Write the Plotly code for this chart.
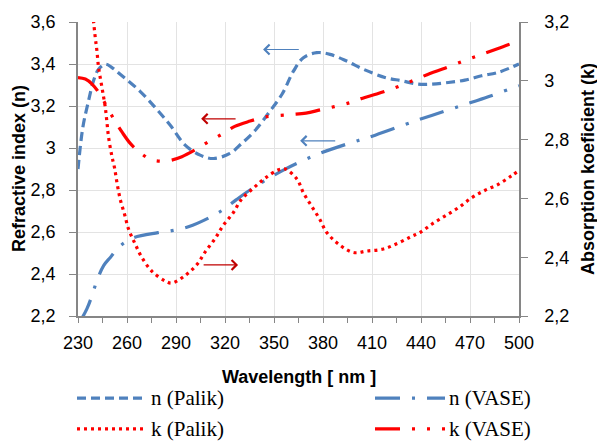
import plotly.graph_objects as go

# ---------------- data ----------------
n_palik_wl = [230, 233, 236.5, 239.5, 242.6, 246.7, 250.8, 256, 268, 278, 286.5, 295.6, 304.8,
              312.9, 323, 330, 338, 347, 355, 362, 368, 376.2, 384.3, 394.5, 404.7, 417.9,
              428.2, 438.3, 446.5, 456.7, 466.9, 477.1, 487.2, 500]
n_palik = [2.90, 3.10, 3.226, 3.32, 3.375, 3.399, 3.383, 3.35, 3.27, 3.186, 3.108, 3.014, 2.966,
           2.95, 2.974, 3.02, 3.08, 3.17, 3.257, 3.367, 3.43, 3.454, 3.446, 3.414, 3.375, 3.336,
           3.32, 3.304, 3.304, 3.312, 3.323, 3.344, 3.36, 3.40]

n_vase_wl = [231, 235.5, 238.6, 241.6, 245.7, 249.8, 255.9, 264, 279, 288.5, 297.6, 310, 319,
             327, 337, 348, 356, 364, 378, 395.5, 412, 436, 446.5, 471, 479, 500]
n_vase = [2.17, 2.235, 2.298, 2.369, 2.44, 2.479, 2.534, 2.573, 2.597, 2.608, 2.625, 2.667, 2.707,
          2.754, 2.809, 2.861, 2.896, 2.927, 2.974, 3.021, 3.061, 3.128, 3.155, 3.218, 3.238, 3.297]

k_palik_wl = [239, 240.6, 241.6, 242.6, 244.3, 245.7, 246.7, 247.7, 248.7, 250.8, 252.4, 253.9,
              255.9, 258.5, 261, 265, 269, 275.3, 283.4, 287.5, 295.6, 302.8, 308, 314, 319, 325,
              330, 337.4, 344.6, 352.7, 356.8, 364, 368, 373, 378, 382.3, 389.4, 398.6, 407, 417,
              426, 434, 439.4, 446.5, 454.6, 462.8, 471, 479, 487, 495.4, 500]
k_palik = [3.23, 3.146, 3.101, 3.045, 2.989, 2.944, 2.91, 2.86, 2.809, 2.742, 2.703, 2.652,
           2.596, 2.546, 2.495, 2.445, 2.40, 2.352, 2.319, 2.312, 2.338, 2.375, 2.419, 2.464, 2.509,
           2.551, 2.596, 2.635, 2.669, 2.697, 2.70, 2.666, 2.619, 2.574, 2.529, 2.484, 2.445, 2.416,
           2.421, 2.428, 2.448, 2.47, 2.484, 2.512, 2.54, 2.568, 2.602, 2.627, 2.647, 2.677, 2.695]

k_vase_wl = [230, 234.5, 238.6, 242.6, 251.8, 256.9, 262, 268, 275.3, 285, 293.6, 301.7, 310, 319,
             326, 335.4, 344.6, 359.8, 369.6, 378.2, 395.5, 404.3, 412.9, 422, 437.3, 445.5, 454.6,
             470, 478.7, 487.2, 500]
k_vase = [3.011, 3.006, 2.989, 2.961, 2.871, 2.826, 2.787, 2.756, 2.731, 2.728, 2.742, 2.765,
          2.793, 2.821, 2.845, 2.863, 2.877, 2.885, 2.89, 2.901, 2.924, 2.941, 2.955, 2.972, 3.006,
          3.025, 3.043, 3.076, 3.093, 3.11, 3.137]

series_names = ["n (Palik)", "n (VASE)", "k (Palik)", "k (VASE)"]
x_ticks = [230, 260, 290, 320, 350, 380, 410, 440, 470, 500]

# ---------------- style ----------------
BLUE = "#4F81BD"
RED = "#FF0000"
DARKRED = "#C00000"
DASH_NP = "9px,5px"
DASH_NV = "25px,12px,3px,12px"
DASH_KP = "3px,4px"
DASH_KV = "25px,12px,3px,12px,3px,12px"
SANS = "Liberation Sans"
SERIF = "Liberation Serif"

fig = go.Figure()
fig.add_trace(go.Scatter(x=n_palik_wl, y=n_palik, mode="lines", line_shape="spline",
                         line=dict(color=BLUE, width=3.2, dash=DASH_NP), yaxis="y"))
fig.add_trace(go.Scatter(x=n_vase_wl, y=n_vase, mode="lines", line_shape="spline",
                         line=dict(color=BLUE, width=3.2, dash=DASH_NV), yaxis="y"))
fig.add_trace(go.Scatter(x=k_palik_wl, y=k_palik, mode="lines", line_shape="spline",
                         line=dict(color=RED, width=3.2, dash=DASH_KP), yaxis="y2"))
fig.add_trace(go.Scatter(x=k_vase_wl, y=k_vase, mode="lines", line_shape="spline",
                         line=dict(color=RED, width=3.2, dash=DASH_KV), yaxis="y2"))

axis_line = dict(showline=True, linecolor="#868686", linewidth=1.5)
fig.update_layout(
    width=597, height=444,
    margin=dict(l=78, r=78, t=19, b=128),
    paper_bgcolor="white", plot_bgcolor="white",
    showlegend=False,
    separators=", ",
    font=dict(family=SANS, size=18, color="black"),
    xaxis=dict(range=[230, 500], tickvals=x_ticks, ticks="outside", ticklen=5,
               tickcolor="#868686", showgrid=True, gridcolor="#E3E3E3", gridwidth=1.3,
               minor=dict(dtick=15, tick0=230, ticks="outside", ticklen=5, tickcolor="#868686",
                          showgrid=False),
               ticklabelstandoff=5,
               zeroline=False, tickfont=dict(size=18), **axis_line),
    yaxis=dict(range=[2.2, 3.6], dtick=0.2, tick0=2.2, ticks="outside", ticklen=7,
               tickcolor="#868686", showgrid=True, gridcolor="#E3E3E3", gridwidth=1.3,
               ticklabelstandoff=10,
               zeroline=False, tickfont=dict(size=18), **axis_line),
    yaxis2=dict(range=[2.2, 3.2], dtick=0.2, tick0=2.2, ticks="outside", ticklen=7,
                tickcolor="#868686", overlaying="y", side="right", showgrid=False,
                ticklabelstandoff=13,
                zeroline=False, tickfont=dict(size=18), **axis_line),
)

# axis titles
fig.add_annotation(text="<b>Wavelength [ nm ]</b>", xref="paper", yref="paper", x=0.5, y=0,
                   yanchor="middle", yshift=-61, showarrow=False, font=dict(size=18))
fig.add_annotation(text="<b>Refractive index (n)</b>", xref="paper", yref="paper", x=0, y=0.5,
                   xanchor="center", xshift=-59, textangle=-90, showarrow=False, font=dict(size=18))
fig.add_annotation(text="<b>Absorption koeficient (k)</b>", xref="paper", yref="paper", x=1, y=0.5,
                   xanchor="center", xshift=69, textangle=-90, showarrow=False, font=dict(size=18))

# arrows indicating axes
arrows = [
    (343.3, 3.469, 366.1, BLUE),
    (305.4, 3.139, 327.4, DARKRED),
    (366.0, 3.034, 388.4, BLUE),
    (328.0, 2.443, 306.0, DARKRED),
]
for hx, hy, tx, col in arrows:
    fig.add_annotation(x=hx, y=hy, ax=tx, ay=hy, xref="x", yref="y", axref="x", ayref="y",
                       text="", showarrow=True, arrowhead=4, arrowsize=1.6, arrowwidth=1.2,
                       arrowcolor=col)

# manual legend
legend_items = [
    (series_names[0], BLUE, DASH_NP, 77, 399),
    (series_names[1], BLUE, DASH_NV, 375, 399),
    (series_names[2], RED, DASH_KP, 77, 430),
    (series_names[3], RED, DASH_KV, 375, 430),
]
W, H = 597, 444
for name, col, dash, x0, yc in legend_items:
    fig.add_shape(type="line", xref="paper", yref="paper",
                  x0=(x0 - 78) / (W - 156), x1=(x0 + 70 - 78) / (W - 156),
                  y0=(H - 128 - yc) / (H - 147), y1=(H - 128 - yc) / (H - 147),
                  line=dict(color=col, width=3.2, dash=dash))
    fig.add_annotation(text=name, xref="paper", yref="paper",
                       x=(x0 + 72 - 78) / (W - 156), y=(H - 128 - yc) / (H - 147),
                       xanchor="left", yanchor="middle", showarrow=False,
                       font=dict(family=SERIF, size=21, color="black"))

fig.write_html("out.html")
